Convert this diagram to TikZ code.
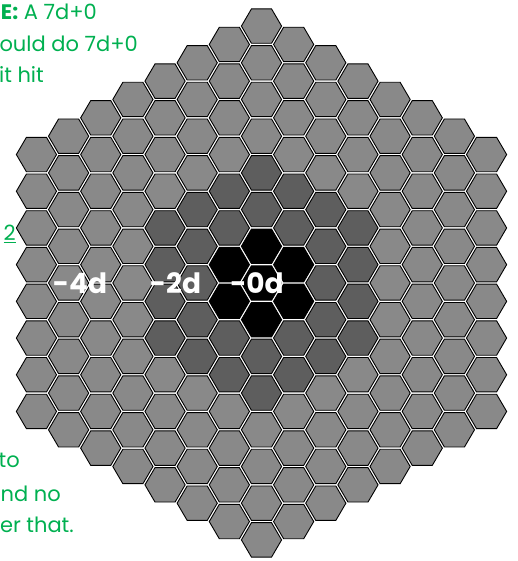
\documentclass[tikz,border=0pt]{standalone}
\usepackage{fontspec}
\setmainfont{Poppins}
\definecolor{hexblack}{HTML}{000000}
\definecolor{hexdark}{HTML}{5E5E5E}
\definecolor{hexlight}{HTML}{898989}
\definecolor{notegreen}{HTML}{00B050}
\begin{document}
\begin{tikzpicture}[x=1pt,y=1pt,
  hexcell/.style={draw=black,line width=0.9pt,line join=miter},
  lab/.style={text=white,font=\fontsize{28}{30}\selectfont\bfseries,inner sep=0pt},
  gtext/.style={text=notegreen,font=\fontsize{21}{25}\selectfont,inner sep=0pt,anchor=base east}]
\useasboundingbox (0,0) rectangle (518,561);
\foreach \q in {-7,...,7}{
  \foreach \r in {-7,...,7}{
    \pgfmathtruncatemacro\qs{\q+\r}
    \pgfmathtruncatemacro\dist{(abs(\q)+abs(\r)+abs(\qs))/2}
    \ifnum\dist<8
      \ifnum\dist<2 \def\hc{hexblack}\else\ifnum\dist<4 \def\hc{hexdark}\else\def\hc{hexlight}\fi\fi
      \pgfmathsetmacro\cx{261.5+\q*32.15}
      \pgfmathsetmacro\cy{278-(\r+\q/2)*36.7}
      \draw[hexcell,fill=\hc] (\cx,\cy) +(20.1,0) -- +(10.05,17.2) -- +(-10.05,17.2) -- +(-20.1,0) -- +(-10.05,-17.2) -- +(10.05,-17.2) -- cycle;
    \fi
  }
}
\node[lab] (l4) at (80,278) {-4d};
\node[lab] (l2) at (175.5,278) {-2d};
\node[lab] (l0) at (257,278) {-0d};
\node[gtext] (t1) at (97,541) {\textbf{E:} A 7d+0};
\node[gtext] (t2) at (138,509) {ould do 7d+0};
\node[gtext] (t3) at (44,478) {it hit};
\node[gtext] (t4) at (16,320) {\underline{2}};
\node[gtext] (t5) at (20,93) {to};
\node[gtext] (t6) at (61,59) {nd no};
\node[gtext] (t7) at (74,28) {er that.};
\end{tikzpicture}
\end{document}
